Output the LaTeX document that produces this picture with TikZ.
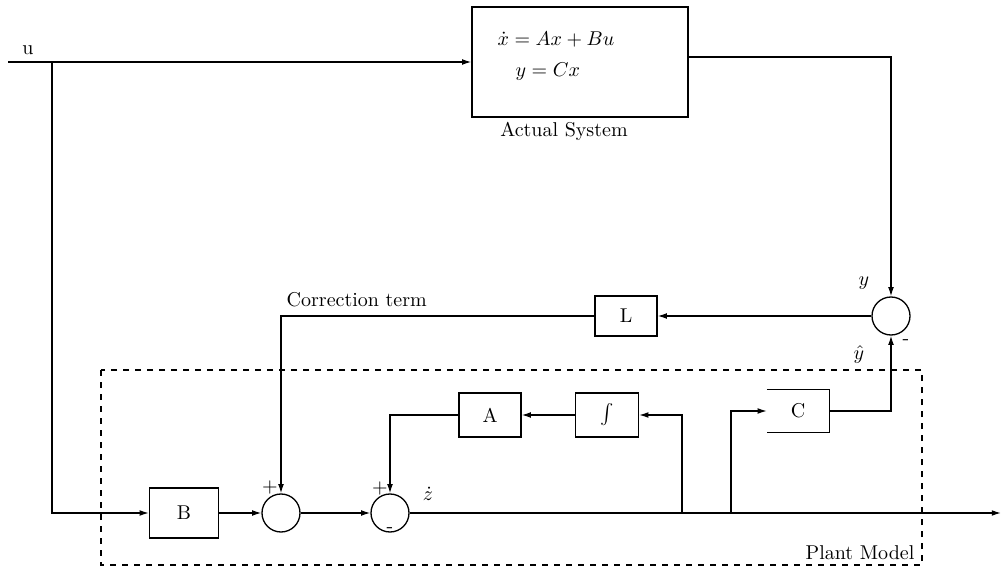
\documentclass[tikz,border=0pt]{standalone}
\usetikzlibrary{arrows.meta}
\begin{document}
\begin{tikzpicture}[x=0.5pt,y=-0.5pt,
  line width=0.65pt,
  every node/.style={font=\fontsize{10}{12}\selectfont},
  arr/.style={-{Latex[length=4.6pt,width=2.9pt]}},
  blk/.style={draw,rectangle,inner sep=0pt},
  sumj/.style={draw,circle,minimum size=19pt,inner sep=0pt},
  lbl/.style={inner sep=0pt}]
\useasboundingbox (0,0) rectangle (1003,567);
% Actual system
\node[blk,minimum width=108pt,minimum height=55pt] (sys) at (580,62) {};
\node[lbl,anchor=west] (eq1) at (497,40) {$\dot{x}=Ax+Bu$};
\node[lbl,anchor=west] (eq2) at (515,72) {$y=Cx$};
\node[lbl] (syslab) at (564,131) {Actual System};
% input
\node[lbl] (ulab) at (28,50) {u};
\coordinate (uin) at (8,62);
\coordinate (ub) at (52,62);
\draw[arr] (uin) -- (sys.west);
% right summing junction
\node[sumj] (s3) at (891,316) {};
\node[lbl] (ylab) at (864,283) {$y$};
\node[lbl] (yhlab) at (859,354) {$\hat{y}$};
\node[lbl] (minus3) at (906,342) {-};
\draw[arr] ([yshift=2.5pt]sys.east) -| (s3.north);
% L block
\node[blk,minimum width=31pt,minimum height=20pt] (L) at (626,316) {L};
\draw[arr] (s3.west) -- (L.east);
% Plant model
\draw[dashed] (101,370) rectangle (922,565);
\node[lbl,anchor=east] (pm) at (915,553) {Plant Model};
% B block
\node[blk,minimum width=34.5pt,minimum height=25pt] (B) at (184,513) {B};
\draw[arr] (ub) |- (B.west);
% sum 1
\node[sumj] (s1) at (281,513) {};
\node[lbl] (p1) at (270,487) {$+$};
\draw[arr] (B.east) -- (s1.west);
\node[lbl,anchor=west] (corr) at (286,300) {Correction term};
\draw[arr] (L.west) -| (s1.north);
% sum 2
\node[sumj] (s2) at (390,513) {};
\node[lbl] (p2) at (380,488) {$+$};
\node[lbl] (m2) at (390,530) {-};
\node[lbl] (zd) at (428,494) {$\dot{z}$};
\draw[arr] (s1.east) -- (s2.west);
% output line
\coordinate (out) at (1001,513);
\draw[arr] (s2.east) -- (out);
% integrator and A
\node[blk,minimum width=31.5pt,minimum height=22pt] (int) at (607,415) {$\int$};
\node[blk,minimum width=31pt,minimum height=22pt] (A) at (490,415) {A};
\coordinate (b1) at (682,513);
\coordinate (b2) at (731,513);
\draw[arr] (b1) |- (int.east);
\draw[arr] (int.west) -- (A.east);
\draw[arr] (A.west) -| (s2.north);
% C block (open on the left)
\node[minimum width=30.5pt,minimum height=21pt,inner sep=0pt] (C) at (798,411) {C};
\draw (C.north west) -- (C.north east) -- (C.south east) -- (C.south west);
\draw[arr] (b2) |- (C.west);
\draw[arr] (C.east) -| (s3.south);
\end{tikzpicture}
\end{document}
